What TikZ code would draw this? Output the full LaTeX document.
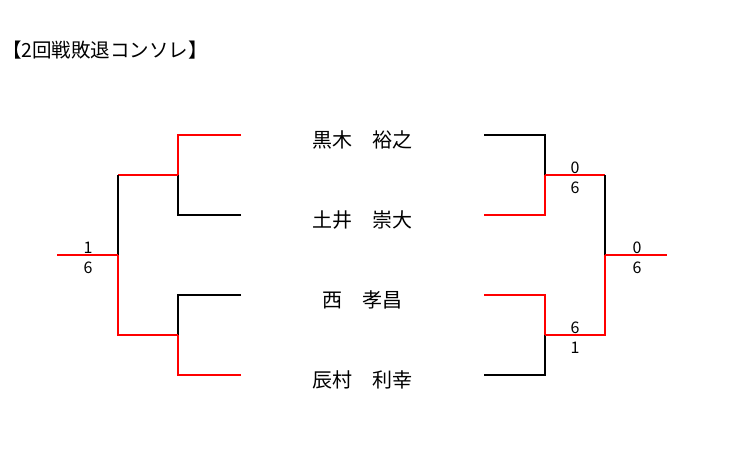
\documentclass[tikz,border=0pt]{standalone}
\usepackage{fontspec}
\setmainfont{Noto Sans CJK JP}

\begin{document}
\begin{tikzpicture}[x=1pt,y=-1pt,line width=2pt,
    win/.style={red},
    lose/.style={black},
    player/.style={font=\fontsize{20}{20}\selectfont,inner sep=0pt},
    score/.style={font=\fontsize{16}{16}\selectfont,inner sep=0pt}]
  \useasboundingbox (0,0) rectangle (729,453);

  \node[anchor=west,font=\fontsize{19.5}{19.5}\selectfont,inner sep=0pt] (title) at (1,50) {【2回戦敗退コンソレ】};

  % players
  \node[player] (p1) at (362,140) {黒木　裕之};
  \node[player] (p2) at (362,220) {土井　崇大};
  \node[player] (p3) at (362,300) {西　孝昌};
  \node[player] (p4) at (362,380) {辰村　利幸};

  \foreach \i/\y in {1/135,2/215,3/295,4/375} {
    \coordinate (l\i) at (241,\y);
    \coordinate (r\i) at (484,\y);
  }

  \path (178,175) coordinate (lA)
        (178,335) coordinate (lB)
        (118,255) coordinate (lF)
        (57,255)  coordinate (lE);
  \path (545,175) coordinate (rA)
        (545,335) coordinate (rB)
        (605,255) coordinate (rF)
        (667,255) coordinate (rE);

  % left side
  \draw[win]  (l1) -| (lA);
  \draw[lose] (l2) -| (lA);
  \draw[lose] (l3) -| (lB);
  \draw[win]  (l4) -| (lB);
  \draw[win]  (lA) -- (lA -| lF);
  \draw[lose] (lA -| lF) -- (lF);
  \draw[win]  (lF) |- (lB);
  \draw[win]  (lF) -- (lE);

  % right side
  \draw[lose] (r1) -| (rA);
  \draw[win]  (r2) -| (rA);
  \draw[win]  (r3) -| (rB);
  \draw[lose] (r4) -| (rB);
  \draw[win]  (rA) -- (rA -| rF);
  \draw[lose] (rA -| rF) -- (rF);
  \draw[win]  (rF) |- (rB);
  \draw[win]  (rF) -- (rE);

  % scores
  \node[score] (sL1) at (88,247.5) {1};
  \node[score] (sL2) at (88,267.5) {6};
  \node[score] (sA1) at (575,167.5) {0};
  \node[score] (sA2) at (575,187.5) {6};
  \node[score] (sB1) at (575,327.5) {6};
  \node[score] (sB2) at (575,347.5) {1};
  \node[score] (sF1) at (637,247.5) {0};
  \node[score] (sF2) at (637,267.5) {6};
\end{tikzpicture}
\end{document}
